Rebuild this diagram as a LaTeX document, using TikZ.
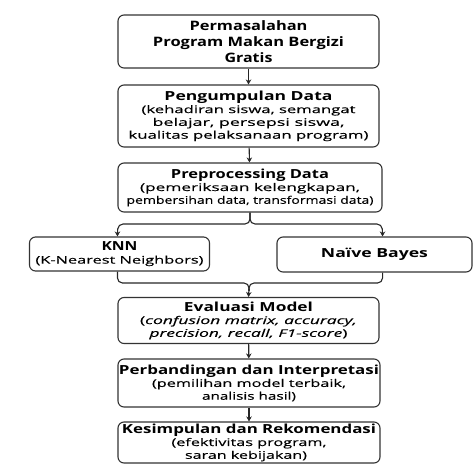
\documentclass[tikz,border=0pt]{standalone}
\usepackage{fontspec}
\setmainfont{Open Sans}
\newfontfamily\bodyf[FakeBold=0.25]{Open Sans}
\usetikzlibrary{arrows.meta}
\tikzset{
  box/.style={draw=black!80, line width=1.1pt, rounded corners=6pt, align=center, inner sep=0pt,
    font=\bodyf\fontsize{10.5}{12.8}\selectfont, text=black},
  conn/.style={draw=black!85, line width=1.1pt, -{Stealth[length=5pt,width=5.5pt]}},
  line/.style={draw=black!85, line width=1.1pt, rounded corners=5pt},
}
\newcommand{\fw}[2]{\resizebox{#1pt}{\height}{#2}}
\newcommand{\ttl}[2]{\fw{#1}{\rmfamily\bfseries\fontsize{12.5}{12.8}\selectfont #2}}
\newcommand{\tti}[2]{\fw{#1}{\rmfamily\bfseries\fontsize{13}{16}\selectfont #2}}
\begin{document}
\begin{tikzpicture}[x=1pt,y=1pt]
\useasboundingbox (0,0) rectangle (474,-464);
\node[box, minimum width=261pt, minimum height=53pt, font=\fontsize{13}{16}\selectfont] (b1) at (248.5,-41.5)
  {\tti{118}{Permasalahan}\\ \tti{191}{Program Makan Bergizi}\\ \tti{48}{Gratis}};
\node[box, minimum width=261pt, minimum height=62pt] (b2) at (248.5,-116)
  {\ttl{168}{Pengumpulan Data}\\ \fw{214}{(kehadiran siswa, semangat}\\ \fw{192}{belajar, persepsi siswa,}\\ \fw{240}{kualitas pelaksanaan program)}};
\node[box, minimum width=264pt, minimum height=49pt] (b3) at (250,-187.5)
  {\ttl{158}{Preprocessing Data}\\ \fw{220}{(pemeriksaan kelengkapan,}\\ \fw{247}{pembersihan data, transformasi data)}};
\node[box, minimum width=180pt, minimum height=34pt] (knn) at (119.5,-254)
  {\ttl{36}{KNN}\\ \fw{168}{(K-Nearest Neighbors)}};
\node[box, minimum width=195pt, minimum height=35pt] (nb) at (374.5,-254.5)
  {\ttl{107}{Naïve Bayes}};
\node[box, minimum width=261pt, minimum height=46pt] (ev) at (248.5,-320.5)
  {\ttl{129}{Evaluasi Model}\\ \fw{217}{(\textit{confusion matrix, accuracy,}}\\ \fw{198}{\textit{precision, recall, F1-score})}};
\node[box, minimum width=262pt, minimum height=48pt] (pb) at (249,-383)
  {\ttl{260}{Perbandingan dan Interpretasi}\\ \fw{194}{(pemilihan model terbaik,}\\ \fw{94}{analisis hasil)}};
\node[box, minimum width=262pt, minimum height=41pt] (ks) at (249,-442.5)
  {\ttl{254}{Kesimpulan dan Rekomendasi}\\ \fw{155}{(efektivitas program,}\hspace*{26pt}\\ \fw{122}{saran kebijakan)}\hspace*{6pt}};

\coordinate (kt) at (knn.north -| b3.west);
\coordinate (nt) at (nb.north -| b3.east);
\coordinate (kb) at (knn.south -| b3.west);
\coordinate (nbb) at (nb.south -| b3.east);
\coordinate (sl) at (118,-224);
\coordinate (sr) at (382,-224);
\coordinate (mc) at (249,-283);

\draw[conn] (b1) -- (b2);
\draw[conn] (b2) -- (b3);
\draw[line] (b3.south) |- (sl) -- ([yshift=2pt]kt);
\draw[line] (b3.south) |- (sr) -- ([yshift=2pt]nt);
\draw[conn] ([yshift=3pt]kt) -- (kt);
\draw[conn] ([yshift=3pt]nt) -- (nt);
\draw[line] (kb) |- (mc) -- ([yshift=-8pt]mc);
\draw[line] (nbb) |- (mc) -- ([yshift=-8pt]mc);
\draw[conn] ([yshift=-6pt]mc) -- (ev.north);
\draw[conn] (ev) -- (pb);
\draw[conn] (pb) -- (ks);
\end{tikzpicture}
\end{document}
